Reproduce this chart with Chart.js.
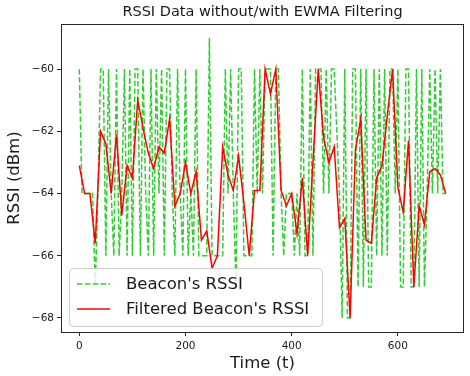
<!DOCTYPE html>
<html>
<head>
<meta charset="utf-8">
<script src="https://cdn.jsdelivr.net/npm/chart.js@4/dist/chart.umd.min.js"></script>
<style>
  html, body { margin: 0; padding: 0; background: #ffffff; }
  #wrap { width: 470px; height: 376px; }
</style>
</head>
<body>
<div id="wrap"><canvas id="c" width="470" height="376"></canvas></div>
<script>
// ---- data ----
const chartTitle = "RSSI Data without/with EWMA Filtering";
const xLabel = "Time (t)";
const yLabel = "RSSI (dBm)";
const rawLabel = "Beacon's RSSI";
const filteredLabel = "Filtered Beacon's RSSI";

const rawTime = [
  0, 5, 10, 15, 20, 25, 30, 35, 40, 45,
  50, 55, 60, 65, 70, 75, 80, 85, 90, 95,
  100, 105, 110, 115, 120, 125, 130, 135, 140, 145,
  150, 155, 160, 165, 170, 175, 180, 185, 190, 195,
  200, 205, 210, 215, 220, 225, 230, 235, 240, 245,
  250, 255, 260, 265, 270, 275, 280, 285, 290, 295,
  300, 305, 310, 315, 320, 325, 330, 335, 340, 345,
  350, 355, 360, 365, 370, 375, 380, 385, 390, 395,
  400, 405, 410, 415, 420, 425, 430, 435, 440, 445,
  450, 455, 460, 465, 470, 475, 480, 485, 490, 495,
  500, 505, 510, 515, 520, 525, 530, 535, 540, 545,
  550, 555, 560, 565, 570, 575, 580, 585, 590, 595,
  600, 605, 610, 615, 620, 625, 630, 635, 640, 645,
  650, 655, 660, 665, 670, 675, 680, 685, 690
];
const rawRssi = [
  -60, -64, -64, -64, -64, -64, -67, -64, -60, -60,
  -66, -60, -64, -66, -60, -66, -64, -60, -66, -60,
  -66, -60, -60, -66, -60, -64, -66, -60, -66, -60,
  -64, -60, -66, -60, -60, -64, -66, -60, -64, -66,
  -60, -66, -64, -66, -60, -66, -66, -66, -66, -59,
  -66, -66, -66, -66, -66, -60, -64, -60, -64, -67,
  -60, -60, -66, -66, -66, -66, -60, -64, -60, -64,
  -60, -60, -60, -66, -60, -60, -64, -66, -64, -64,
  -64, -66, -64, -66, -60, -66, -66, -60, -66, -60,
  -60, -60, -64, -60, -64, -60, -60, -62, -64, -68,
  -60, -68, -68, -60, -60, -67, -60, -67, -60, -67,
  -67, -60, -66, -60, -66, -60, -66, -60, -60, -64,
  -60, -67, -67, -60, -60, -67, -67, -60, -67, -60,
  -67, -64, -60, -64, -60, -64, -60, -64, -64
];

const filteredTime = [
  0, 10, 20, 30, 40, 50, 60, 70, 80, 90,
  100, 110, 120, 130, 140, 150, 160, 170, 180, 190,
  200, 210, 220, 230, 240, 250, 260, 270, 280, 290,
  300, 310, 320, 330, 340, 350, 360, 370, 380, 390,
  400, 410, 420, 430, 440, 450, 460, 470, 480, 490,
  500, 510, 520, 530, 540, 550, 560, 570, 580, 590,
  600, 610, 620, 630, 640, 650, 660, 670, 680, 690
];
const filteredRssi = [
  -63.1, -64.0, -64.0, -65.6, -62.0, -62.4, -64.0, -62.1, -64.7, -63.1,
  -63.5, -61.0, -61.9, -62.7, -63.2, -62.5, -62.7, -61.6, -64.4, -64.0,
  -63.0, -64.0, -63.3, -65.5, -65.2, -66.4, -66.0, -62.5, -63.4, -63.9,
  -62.8, -64.3, -66.0, -63.9, -63.9, -60.0, -60.8, -60.0, -63.9, -64.4,
  -64.0, -65.3, -63.5, -66.0, -63.0, -60.0, -62.2, -63.0, -62.5, -65.1,
  -64.8, -68.0, -62.6, -61.6, -65.5, -65.6, -63.5, -63.1, -61.5, -60.0,
  -63.8, -64.6, -62.3, -67.0, -64.4, -65.0, -63.3, -63.2, -63.4, -64.0
];

const xTicks = [0, 200, 400, 600];
const yTicks = [-68, -66, -64, -62, -60];

// ---- styles ----
const GREEN = '#32cd32';
const RED = '#ff0000';
const FONT = "'DejaVu Sans', 'Liberation Sans', sans-serif";
const DASH = [5.5, 2.4];

const rawPoints = rawTime.map((t, i) => ({ x: t, y: rawRssi[i] }));
const filteredPoints = filteredTime.map((t, i) => ({ x: t, y: filteredRssi[i] }));

const fmt = v => String(v).replace('-', '\u2212');

const overlay = {
  id: 'overlay',
  afterDatasetsDraw(chart) {
    const ctx = chart.ctx;
    const a = chart.chartArea;
    ctx.save();
    // frame (all four spines)
    ctx.strokeStyle = '#262626';
    ctx.lineWidth = 1;
    ctx.setLineDash([]);
    ctx.strokeRect(Math.round(a.left) + 0.5, Math.round(a.top) + 0.5,
                   Math.round(a.right - a.left) - 1, Math.round(a.bottom - a.top));
    // title
    ctx.fillStyle = '#1a1a1a';
    ctx.font = '14.5px ' + FONT;
    ctx.textAlign = 'center';
    ctx.textBaseline = 'middle';
    ctx.fillText(chartTitle, (a.left + a.right) / 2, 12);
    // legend
    const lx = 69.5, ly = 268.5, lw = 253, lh = 58;
    ctx.beginPath();
    ctx.roundRect(lx, ly, lw, lh, 4);
    ctx.fillStyle = 'rgba(255,255,255,0.8)';
    ctx.fill();
    ctx.strokeStyle = '#cccccc';
    ctx.stroke();
    const rows = [
      { y: 284, color: GREEN, dash: DASH, text: rawLabel },
      { y: 309, color: RED, dash: [], text: filteredLabel }
    ];
    rows.forEach(r => {
      ctx.beginPath();
      ctx.setLineDash(r.dash);
      ctx.strokeStyle = r.color;
      ctx.lineWidth = 1.5;
      ctx.moveTo(77, r.y);
      ctx.lineTo(110, r.y);
      ctx.stroke();
      ctx.setLineDash([]);
      ctx.fillStyle = '#1a1a1a';
      ctx.font = '16.5px ' + FONT;
      ctx.textAlign = 'left';
      ctx.textBaseline = 'middle';
      ctx.fillText(r.text, 126, r.y + 1);
    });
    ctx.restore();
  }
};

new Chart(document.getElementById('c'), {
  type: 'line',
  data: {
    datasets: [
      {
        label: filteredLabel,
        data: filteredPoints,
        borderColor: RED,
        backgroundColor: RED,
        borderWidth: 1.5,
        pointRadius: 0,
        tension: 0,
        fill: false,
        order: 0
      },
      {
        label: rawLabel,
        data: rawPoints,
        borderColor: GREEN,
        backgroundColor: GREEN,
        borderWidth: 1.5,
        borderDash: DASH,
        pointRadius: 0,
        tension: 0,
        fill: false,
        order: 1
      }
    ]
  },
  options: {
    responsive: false,
    animation: false,
    devicePixelRatio: 1,
    layout: { padding: { top: 24, right: 6, left: 0, bottom: 0 } },
    plugins: {
      legend: { display: false },
      title: { display: false },
      tooltip: { enabled: false }
    },
    scales: {
      x: {
        type: 'linear',
        min: -34.5,
        max: 724.5,
        afterBuildTicks: s => { s.ticks = xTicks.map(v => ({ value: v })); },
        afterFit: s => { s.height = 44; },
        ticks: {
          color: '#1a1a1a',
          font: { family: FONT, size: 10.5 },
          padding: 4,
          maxRotation: 0,
          callback: v => fmt(v)
        },
        grid: { display: true, drawOnChartArea: false, drawTicks: true, tickLength: 4, tickColor: '#262626' },
        border: { display: false },
        title: {
          display: true,
          text: xLabel,
          color: '#1a1a1a',
          font: { family: FONT, size: 16.5 },
          padding: { top: 0, bottom: 2 }
        }
      },
      y: {
        type: 'linear',
        min: -68.45,
        max: -58.55,
        afterBuildTicks: s => { s.ticks = yTicks.map(v => ({ value: v })); },
        afterFit: s => { s.width = 61; },
        ticks: {
          color: '#1a1a1a',
          font: { family: FONT, size: 10.5 },
          padding: 3,
          callback: v => fmt(v)
        },
        grid: { display: true, drawOnChartArea: false, drawTicks: true, tickLength: 4, tickColor: '#262626' },
        border: { display: false },
        title: {
          display: true,
          text: yLabel,
          color: '#1a1a1a',
          font: { family: FONT, size: 16.5 },
          padding: { top: 5, bottom: 0 }
        }
      }
    }
  },
  plugins: [overlay]
});
</script>
</body>
</html>
